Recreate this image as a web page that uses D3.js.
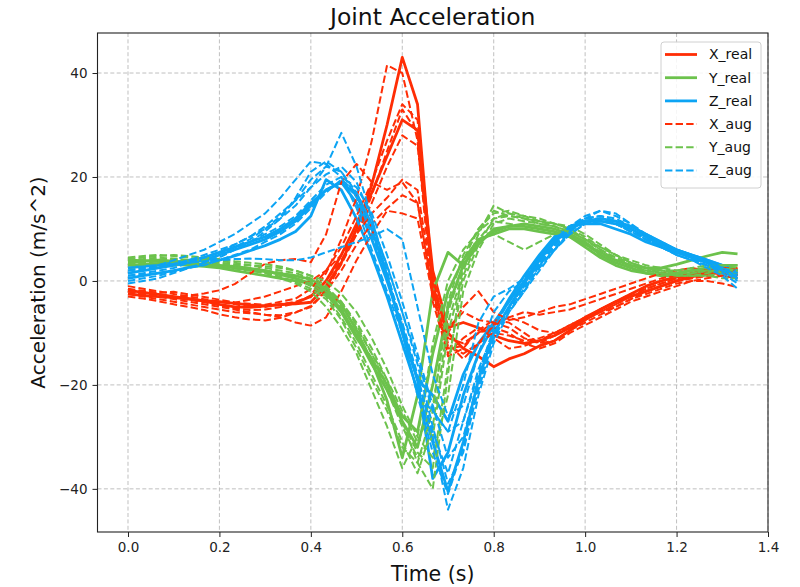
<!DOCTYPE html>
<html>
<head>
<meta charset="utf-8">
<script src="https://cdn.jsdelivr.net/npm/d3@7"></script>
<style>
  html, body { margin: 0; padding: 0; background: #fff; }
  svg { display: block; font-family: "DejaVu Sans", sans-serif; }
</style>
</head>
<body>
<svg id="chart" width="800" height="587"></svg>
<script>
// Joint acceleration per axis, sampled at 30 Hz (41 samples, 0 – 1.333 s)
const sampleRate = 30;

const xReal = [
  [-1.8,-2.2,-2.6,-3.0,-3.4, -3.9,-4.5,-5.0,-5.1,-4.8, -4.5,-4.4,-4.1,-1.0,3.5, 10.0,18.5,30.0,43.0,34.0, -1.0,-10.0,-13.0,-14.5,-16.5, -15.0,-14.0,-12.5,-11.5,-9.5, -7.5,-5.5,-4.0,-2.5,-1.0, 0.0,0.8,1.2,1.5,1.8, 1.6],
  [-2.5,-2.8,-3.0,-3.2,-3.5, -3.8,-4.0,-4.3,-4.6,-4.8, -4.6,-4.2,-3.0,0.0,5.0, 11.0,17.0,24.0,31.0,29.0, 2.0,-9.0,-8.0,-9.0,-10.5, -11.5,-12.0,-11.5,-10.5,-9.0, -7.0,-5.5,-4.0,-3.0,-2.0, -1.0,0.0,0.8,1.5,2.0, 2.2]
];
const yReal = [
  [4.0,3.9,3.7,3.5,3.3, 3.0,2.8,2.5,2.2,1.8, 1.4,1.0,0.3,-1.5,-4.5, -9.5,-15.5,-23.0,-34.0,-22.0, -2.0,5.5,3.0,7.0,10.0, 10.5,10.5,10.0,9.5,8.5, 7.0,5.5,4.0,3.0,2.5, 2.5,3.2,4.0,4.8,5.5, 5.2],
  [3.0,3.2,3.3,3.2,3.0, 2.8,2.5,2.0,1.5,1.0, 0.5,0.0,-0.5,-2.0,-5.5, -10.5,-16.0,-21.0,-27.0,-32.0, -20.0,-5.0,3.0,7.5,9.5, 10.5,11.0,10.5,10.0,9.0, 7.5,5.0,3.5,2.5,1.5, 1.0,1.0,1.5,2.0,2.5, 2.0],
  [3.5,3.8,4.0,3.8,3.5, 3.2,3.0,2.8,2.4,2.0, 1.2,0.5,-0.5,-2.5,-6.0, -11.0,-15.0,-20.0,-26.0,-29.0, -14.0,-2.0,4.0,8.0,9.0, 10.0,10.0,9.5,9.0,8.5, 6.5,4.5,3.0,2.0,1.5, 1.0,1.5,2.0,2.5,3.0, 3.0]
];
const zReal = [
  [0.5,1.0,1.5,2.0,2.6, 3.2,4.0,4.8,5.8,6.8, 8.0,9.5,12.5,19.5,17.5, 12.0,5.0,-3.0,-12.0,-21.0, -31.0,-40.5,-31.0,-19.0,-10.0, -5.0,-0.5,4.0,7.5,10.0, 11.5,11.5,11.0,10.0,8.5, 7.0,6.0,5.0,4.0,3.0, 1.5],
  [1.5,2.0,2.5,3.0,3.5, 4.0,5.0,6.0,7.0,8.0, 9.5,11.5,14.5,17.5,19.0, 15.0,8.0,0.0,-9.0,-19.0, -38.0,-33.0,-22.0,-14.0,-8.5, -3.5,1.0,5.0,8.5,10.5, 11.0,11.0,10.0,9.0,7.5, 6.5,5.5,4.5,3.5,2.5, 1.0],
  [2.5,2.8,3.0,3.5,4.0, 4.5,5.5,6.5,7.5,8.5, 10.0,12.0,15.0,17.5,19.0, 16.5,10.0,1.0,-10.0,-19.0, -22.0,-27.0,-18.0,-12.0,-8.0, -4.0,0.0,4.5,8.0,10.5, 11.5,12.0,11.5,10.5,9.0, 7.5,6.0,5.0,4.0,3.0, 2.0]
];

const xAug = [
  [-2.0,-2.4,-2.9,-3.1,-3.6, -4.1,-4.7,-5.3,-5.6,-5.5, -5.0,-4.3,-2.8,1.5,8.0, 16.0,27.0,41.5,40.0,27.0, -4.0,-14.0,-11.0,-9.0,-11.0, -13.0,-12.5,-11.5,-10.0,-8.5, -7.0,-5.5,-4.0,-2.5,-1.5, -0.5,0.5,1.0,1.3,1.5, 1.2],
  [-1.5,-1.9,-2.3,-2.1,-2.6, -3.1,-3.6,-4.1,-4.4,-4.6, -4.0,-3.4,-1.5,2.0,6.5, 12.5,19.0,27.0,34.0,31.0, 0.5,-11.0,-12.0,-10.0,-8.0, -9.0,-11.0,-12.0,-10.5,-9.0, -7.5,-6.0,-4.5,-3.0,-2.0, -1.0,0.0,0.5,1.0,1.5, 2.0],
  [-3.0,-3.4,-3.9,-4.5,-5.0, -5.6,-6.4,-7.0,-7.4,-7.6, -7.1,-6.1,-4.8,-1.8,3.2, 9.0,16.5,25.0,33.0,28.5, -1.5,-14.5,-13.0,-9.5,-7.5, -8.0,-10.0,-12.0,-11.5,-9.5, -8.0,-6.5,-5.0,-3.5,-2.0, -1.0,0.0,0.5,1.0,1.0, 0.5],
  [-2.0,-2.6,-3.0,-3.2,-2.8, -2.4,-1.8,-0.6,1.4,3.3, 4.0,4.2,3.6,9.0,19.0, 22.5,19.0,17.5,19.0,15.0, -2.5,-9.0,-6.0,-7.5,-8.0, -7.0,-6.0,-6.5,-6.0,-5.5, -4.5,-3.5,-2.5,-1.5,-0.5, 0.5,1.0,1.5,2.0,2.5, 2.5],
  [-1.0,-1.5,-2.0,-2.5,-3.0, -3.5,-4.0,-4.2,-3.6,-3.0, -2.0,-1.0,0.0,2.0,5.0, 9.0,13.0,16.0,19.5,17.5, -1.0,-10.0,-5.0,-2.0,-6.0, -7.5,-7.0,-6.0,-5.0,-4.5, -3.5,-2.5,-1.5,-0.5,0.5, 1.5,2.0,2.5,2.0,1.5, 1.0],
  [-2.5,-3.0,-3.5,-4.0,-4.5, -5.0,-5.5,-6.0,-6.2,-6.5, -6.6,-6.0,-5.0,-2.0,2.0, 7.0,11.0,14.0,16.5,15.0, -2.0,-12.5,-14.0,-12.0,-10.0, -10.5,-11.5,-11.0,-10.0,-8.5, -7.0,-6.0,-5.0,-3.5,-2.5, -1.5,-0.5,0.0,0.0,-0.5, -1.2],
  [-2.0,-2.5,-3.0,-3.5,-4.0, -4.5,-5.0,-5.5,-6.0,-6.5, -7.0,-8.0,-8.6,-7.0,-2.0, 4.0,9.0,13.5,13.0,12.0, -3.0,-13.0,-12.5,-10.0,-9.0, -10.0,-12.0,-13.0,-12.0,-10.0, -8.5,-7.0,-5.5,-4.0,-3.0, -2.0,-1.0,0.0,0.5,1.0, 0.5],
  [-2.0,-2.0,-2.5,-3.0,-3.5, -4.0,-4.0,-4.5,-5.0,-5.0, -4.5,-4.0,-3.0,0.0,4.0, 9.0,15.0,22.0,28.0,26.0, 1.0,-12.0,-15.0,-12.0,-8.5, -7.0,-8.0,-9.5,-10.0,-9.0, -7.5,-6.0,-4.5,-3.0,-1.5, -0.5,0.5,1.0,1.5,2.0, 2.5]
];
const yAug = [
  [4.5,4.8,5.0,4.8,4.5, 4.0,3.5,3.2,3.0,2.8, 2.5,2.0,1.0,-1.0,-4.0, -8.0,-13.0,-19.0,-27.0,-35.0, -40.0,-18.0,4.0,10.0,13.5, 12.5,12.0,11.5,11.0,10.0, 8.0,6.0,4.5,3.5,2.5, 2.0,1.5,1.5,2.0,2.0, 1.5],
  [3.0,3.5,4.0,4.2,4.0, 3.5,3.2,3.0,2.5,2.0, 1.5,0.5,-1.0,-3.0,-7.0, -12.0,-18.0,-24.0,-31.0,-37.0, -28.0,-8.0,2.0,9.0,14.5, 13.0,12.0,11.5,11.0,10.5, 9.0,7.0,5.0,3.5,2.5, 1.5,1.0,1.0,1.5,2.0, 2.0],
  [4.0,4.2,4.5,4.3,4.0, 3.6,3.0,2.5,2.0,1.5, 0.5,-0.5,-2.0,-5.0,-9.0, -14.0,-21.0,-28.0,-36.0,-30.0, -12.0,0.0,6.0,9.5,12.0, 12.5,12.0,11.0,10.5,9.5, 8.0,6.0,4.5,3.0,2.0, 1.5,1.0,1.0,1.0,0.5, 0.5],
  [3.5,3.5,3.8,4.0,3.8, 3.5,3.0,2.6,2.4,2.0, 1.6,1.0,0.0,-2.0,-5.0, -9.0,-14.0,-19.0,-25.0,-31.0, -24.0,-6.0,3.0,8.0,9.0, 7.5,6.0,7.5,9.0,9.5, 8.0,6.5,5.0,4.0,3.0, 2.5,2.0,2.0,2.5,2.5, 2.0],
  [2.5,2.8,3.0,3.5,3.8, 4.0,3.8,3.5,3.0,2.5, 2.0,1.5,0.5,-1.5,-4.0, -8.5,-14.0,-20.0,-27.0,-33.0, -36.0,-16.0,0.0,7.0,12.0, 13.0,12.5,12.0,11.0,10.0, 8.5,6.5,5.0,3.5,2.5, 2.0,1.5,1.0,1.0,1.5, 1.0],
  [4.2,4.5,4.8,5.0,4.8, 4.5,4.2,3.8,3.5,3.2, 2.8,2.0,1.0,0.0,-2.5, -6.0,-11.0,-17.0,-24.0,-30.0, -34.0,-22.0,-2.0,6.0,11.0, 12.0,11.5,11.0,10.5,9.5, 8.0,6.0,4.0,3.0,2.0, 1.5,1.5,2.0,2.0,1.5, 1.5],
  [3.8,4.0,4.2,4.0,3.6, 3.2,2.8,2.4,2.0,1.5, 0.8,-0.2,-1.5,-3.5,-7.5, -13.0,-19.0,-25.0,-32.0,-35.0, -25.0,-4.0,5.0,10.0,13.0, 13.5,12.5,11.5,10.5,9.0, 7.0,5.0,3.5,2.5,2.0, 1.5,1.5,2.0,2.5,3.0, 3.0],
  [3.2,3.0,2.8,3.0,3.2, 3.0,2.8,2.6,2.3,1.8, 1.2,0.5,-0.5,-2.5,-6.0, -10.0,-15.0,-21.0,-28.0,-34.0, -30.0,-10.0,1.0,8.0,11.5, 11.0,10.5,10.0,9.5,9.0, 7.5,5.5,4.0,3.0,2.5, 2.0,2.0,2.5,3.0,3.0, 2.5]
];
const zAug = [
  [1.0,1.5,2.0,2.5,3.5, 4.5,5.5,7.0,8.5,10.0, 12.0,14.5,18.0,22.0,28.5, 22.0,12.0,1.0,-10.0,-22.0, -33.0,-41.0,-32.0,-21.0,-11.0, -5.0,-1.0,3.5,7.0,10.0, 12.0,12.5,11.5,10.0,8.0, 6.5,5.5,4.5,3.0,1.5, -0.5],
  [2.0,2.5,3.0,4.0,5.0, 6.0,7.5,9.0,11.0,13.0, 16.0,19.5,23.0,22.5,20.0, 14.0,6.0,-2.0,-10.0,-19.0, -29.0,-37.0,-27.0,-17.0,-10.0, -5.5,-1.5,2.5,6.0,9.0, 11.0,11.5,11.0,9.5,8.0, 6.5,5.0,4.0,3.0,2.0, 1.0],
  [0.0,0.5,1.0,1.8,2.5, 3.5,4.5,6.0,7.5,9.5, 12.0,16.0,21.0,23.0,21.0, 16.0,9.0,1.0,-8.0,-18.0, -30.0,-44.0,-36.0,-22.0,-12.0, -6.0,-2.0,2.0,6.0,9.5, 12.0,13.5,13.0,11.0,8.5, 6.5,5.0,4.0,2.5,1.0, -1.5],
  [2.5,2.8,3.0,3.2,3.5, 3.8,4.0,4.2,4.3,4.2, 4.0,4.0,4.5,5.5,6.5, 7.5,8.5,10.0,8.0,-5.0, -18.0,-26.0,-24.0,-14.0,-6.0, -2.0,0.0,3.0,6.0,9.0, 11.0,11.5,11.0,9.5,8.0, 6.5,5.0,4.0,3.0,2.0, 0.5],
  [1.0,1.2,1.5,2.0,2.5, 3.0,4.0,5.0,6.0,7.5, 9.0,11.0,14.0,17.0,19.5, 17.0,11.0,3.0,-6.0,-15.0, -25.0,-29.0,-20.0,-8.0,-3.0, -1.5,0.5,4.5,8.0,10.5, 12.0,12.0,11.0,9.5,8.0, 7.0,6.0,4.5,3.5,2.0, 0.5],
  [-0.5,0.0,0.5,1.5,2.5, 3.5,5.0,6.5,8.0,10.0, 12.5,15.5,19.5,22.0,21.0, 17.0,11.0,3.0,-6.0,-16.0, -28.0,-39.0,-33.0,-20.0,-11.0, -6.0,-2.0,3.0,7.0,10.0, 12.0,12.5,12.0,10.5,9.0, 7.5,6.0,5.0,4.0,2.5, 1.5],
  [1.5,2.0,2.5,3.0,3.8, 4.5,5.5,6.5,7.5,9.0, 10.5,12.5,15.5,18.5,20.0, 18.0,13.0,5.0,-4.0,-14.0, -24.0,-34.0,-30.0,-19.0,-10.5, -5.0,-1.0,3.0,6.5,9.5, 11.5,12.0,11.5,10.0,8.5, 7.0,5.5,4.5,3.5,2.5, 1.0],
  [2.0,2.3,2.8,3.3,4.0, 5.0,6.0,7.0,8.5,10.5, 13.0,15.5,18.0,20.5,22.0, 19.0,12.0,2.0,-10.0,-22.0, -25.0,-29.0,-27.0,-18.0,-9.0, -4.0,-0.5,3.5,7.5,10.5, 12.5,13.5,12.5,11.0,9.0, 7.5,6.0,5.0,3.5,2.0, 0.0]
];

const xTicks = [0.0, 0.2, 0.4, 0.6, 0.8, 1.0, 1.2, 1.4];
const yTicks = [-40, -20, 0, 20, 40];
const legendLabels = ["X_real", "Y_real", "Z_real", "X_aug", "Y_aug", "Z_aug"];

const colors = { x: "#ff2d05", y: "#6cc24c", z: "#0ca4f4" };

// ---- layout ----
const svg = d3.select("#chart");
const plot = { left: 97.5, right: 768, top: 33, bottom: 532 };

const xScale = d3.scaleLinear().domain([-0.0667, 1.4]).range([plot.left, plot.right]);
const yScale = d3.scaleLinear().domain([-48.3, 47.7]).range([plot.bottom, plot.top]);

const line = d3.line()
  .x((d, i) => xScale(i / sampleRate))
  .y(d => yScale(d));

// clip the data lines to the axes box
svg.append("defs").append("clipPath").attr("id", "plotClip")
  .append("rect")
  .attr("x", plot.left).attr("y", plot.top)
  .attr("width", plot.right - plot.left).attr("height", plot.bottom - plot.top);

// ---- grid ----
const grid = svg.append("g").attr("stroke", "#b0b0b0").attr("stroke-width", 0.8)
  .attr("stroke-dasharray", "4,2.4").attr("fill", "none");
grid.selectAll("line.gx").data(xTicks).join("line")
  .attr("x1", d => xScale(d)).attr("x2", d => xScale(d))
  .attr("y1", plot.top).attr("y2", plot.bottom);
grid.selectAll("line.gy").data(yTicks).join("line")
  .attr("class", "gy")
  .attr("x1", plot.left).attr("x2", plot.right)
  .attr("y1", d => yScale(d)).attr("y2", d => yScale(d));

// ---- series ----
const lines = svg.append("g").attr("clip-path", "url(#plotClip)").attr("fill", "none")
  .attr("stroke-linejoin", "round");

function drawGroup(series, color, dashed) {
  lines.append("g").selectAll("path").data(series).join("path")
    .attr("d", line)
    .attr("stroke", color)
    .attr("stroke-width", dashed ? 2.0 : 2.8)
    .attr("stroke-dasharray", dashed ? "7.4,3.2" : null);
}
drawGroup(xReal, colors.x, false);
drawGroup(yReal, colors.y, false);
drawGroup(zReal, colors.z, false);
drawGroup(xAug, colors.x, true);
drawGroup(yAug, colors.y, true);
drawGroup(zAug, colors.z, true);

// ---- axes ----
const minus = s => s.replace("-", "\u2212");
const xAxis = d3.axisBottom(xScale).tickValues(xTicks).tickSize(5).tickPadding(5)
  .tickFormat(d => d3.format(".1f")(d));
const yAxis = d3.axisLeft(yScale).tickValues(yTicks).tickSize(5).tickPadding(5)
  .tickFormat(d => minus(String(d)));

const gx = svg.append("g").attr("transform", `translate(0,${plot.bottom})`).call(xAxis);
const gy = svg.append("g").attr("transform", `translate(${plot.left},0)`).call(yAxis);
[gx, gy].forEach(g => {
  g.select(".domain").remove();
  g.selectAll(".tick line").attr("stroke", "#222").attr("stroke-width", 1);
  g.selectAll(".tick text").attr("font-size", 13.5).attr("fill", "#222")
    .attr("font-family", "DejaVu Sans, sans-serif");
});

// axes frame
svg.append("rect")
  .attr("x", plot.left).attr("y", plot.top)
  .attr("width", plot.right - plot.left).attr("height", plot.bottom - plot.top)
  .attr("fill", "none").attr("stroke", "#222").attr("stroke-width", 1.1);

// ---- titles ----
const cx = (plot.left + plot.right) / 2;
svg.append("text").attr("x", cx).attr("y", 25).attr("text-anchor", "middle")
  .attr("font-size", 23.5).attr("fill", "#111").text("Joint Acceleration");
svg.append("text").attr("x", cx).attr("y", 581).attr("text-anchor", "middle")
  .attr("font-size", 20.5).attr("fill", "#111").text("Time (s)");
svg.append("text")
  .attr("transform", `translate(45,${(plot.top + plot.bottom) / 2}) rotate(-90)`)
  .attr("text-anchor", "middle")
  .attr("font-size", 20).attr("fill", "#111").text("Acceleration (m/s^2)");

// ---- legend ----
const legendItems = [
  { label: legendLabels[0], color: colors.x, dashed: false },
  { label: legendLabels[1], color: colors.y, dashed: false },
  { label: legendLabels[2], color: colors.z, dashed: false },
  { label: legendLabels[3], color: colors.x, dashed: true },
  { label: legendLabels[4], color: colors.y, dashed: true },
  { label: legendLabels[5], color: colors.z, dashed: true }
];
const legend = svg.append("g").attr("transform", "translate(661,42)");
legend.append("rect")
  .attr("width", 100).attr("height", 146).attr("rx", 3)
  .attr("fill", "#fff").attr("fill-opacity", 0.85)
  .attr("stroke", "#d0d0d0").attr("stroke-width", 1);
const li = legend.selectAll("g.item").data(legendItems).join("g")
  .attr("class", "item")
  .attr("transform", (d, i) => `translate(0,${12.5 + i * 23.2})`);
li.append("line")
  .attr("x1", 4).attr("x2", 36).attr("y1", 0).attr("y2", 0)
  .attr("stroke", d => d.color)
  .attr("stroke-width", d => d.dashed ? 2.0 : 2.8)
  .attr("stroke-dasharray", d => d.dashed ? "7.4,3.2" : null);
li.append("text")
  .attr("x", 48).attr("y", 0).attr("dy", "0.35em")
  .attr("font-size", 14).attr("fill", "#111")
  .text(d => d.label);
</script>
</body>
</html>
